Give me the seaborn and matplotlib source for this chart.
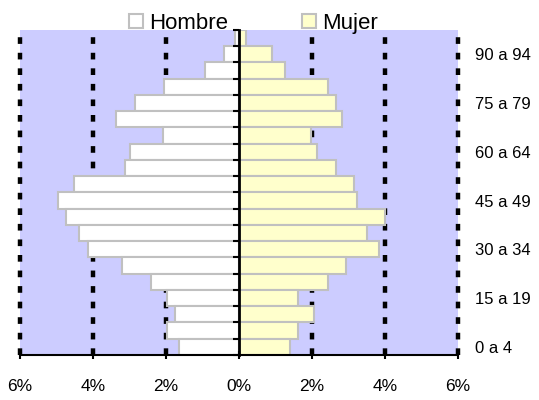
import matplotlib
matplotlib.use("Agg")
import matplotlib.pyplot as plt
import seaborn as sns
from matplotlib.patches import Patch

# age groups, bottom to top
ages = ["0 a 4", "5 a 9", "10 a 14", "15 a 19", "20 a 24", "25 a 29", "30 a 34",
        "35 a 39", "40 a 44", "45 a 49", "50 a 54", "55 a 59", "60 a 64", "65 a 69",
        "70 a 74", "75 a 79", "80 a 84", "85 a 89", "90 a 94", "95 +"]
hombre = [1.65, 1.97, 1.75, 1.97, 2.40, 3.21, 4.15, 4.38, 4.75, 4.96,
          4.52, 3.13, 2.98, 2.09, 3.36, 2.84, 2.05, 0.92, 0.40, 0.10]
mujer = [1.41, 1.63, 2.05, 1.63, 2.44, 2.94, 3.83, 3.52, 4.00, 3.24,
         3.16, 2.65, 2.14, 1.98, 2.81, 2.65, 2.44, 1.25, 0.90, 0.20]
xticks = [-6, -4, -2, 0, 2, 4, 6]
shown = ["0 a 4", "15 a 19", "30 a 34", "45 a 49", "60 a 64", "75 a 79", "90 a 94"]

plt.rcParams["font.family"] = ["Liberation Sans", "DejaVu Sans"]

fig = plt.figure(figsize=(5.39, 4.0), dpi=100)
ax = fig.add_axes([0.0371, 0.1125, 0.8126, 0.8125])
ax.set_facecolor("#ccccff")

order = ages[::-1]  # top row first
for x in xticks:
    if x != 0:
        ax.axvline(x, color="black", lw=3.2, linestyle=(0, (1.5, 2.0)), zorder=1, clip_on=False)

sns.barplot(x=[-v for v in hombre], y=ages, order=order, orient="h", color="white",
            edgecolor="#c0c0c0", linewidth=1.5, width=1.0, ax=ax, zorder=2, saturation=1)
sns.barplot(x=mujer, y=ages, order=order, orient="h", color="#ffffcc",
            edgecolor="#c0c0c0", linewidth=1.5, width=1.0, ax=ax, zorder=2, saturation=1)
ax.set_axisbelow(False)

ax.set_xlim(-6, 6)
ax.set_ylim(len(ages) - 0.5, -0.5)
ax.set_xticks(xticks)
ax.set_xticklabels([f"{abs(x)}%" for x in xticks], fontsize=12.5)
ax.tick_params(axis="x", direction="inout", length=6, width=1.5, color="black", pad=14,
               bottom=True)
ax.set_xlabel("")
ax.set_ylabel("")

# zero axis with small ticks at group boundaries
ax.spines["left"].set_position(("data", 0))
ax.spines["left"].set_linewidth(2)
ax.spines["left"].set_color("black")
ax.spines["left"].set_zorder(5)
ax.set_yticks([i - 0.5 for i in range(len(ages) + 1)])
ax.set_yticklabels([])
ax.spines["bottom"].set_linewidth(1.5)
ax.spines["bottom"].set_color("black")
ax.spines["top"].set_visible(False)
ax.spines["right"].set_visible(False)

# labels on the right
ax2 = ax.twinx()
ax2.set_ylim(ax.get_ylim())
ax2.set_yticks([order.index(a) for a in shown])
ax2.set_yticklabels(shown, fontsize=12)
ax2.tick_params(axis="y", length=0, pad=12)
for s in ax2.spines.values():
    s.set_visible(False)
ax.tick_params(axis="y", direction="out", left=True, right=False, length=4, width=1.5,
               color="black")

handles = [Patch(facecolor="white", edgecolor="#c0c0c0", linewidth=1.5, label="Hombre"),
           Patch(facecolor="#ffffcc", edgecolor="#c0c0c0", linewidth=1.5, label="Mujer")]
fig.legend(handles=handles, loc="center left", bbox_to_anchor=(129 / 539, 0.942), ncol=2,
           frameon=False, fontsize=16, handlelength=0.62, handleheight=0.62,
           handletextpad=0.3, columnspacing=3.3, borderpad=0, borderaxespad=0)

fig.savefig("out.png", dpi=100)
